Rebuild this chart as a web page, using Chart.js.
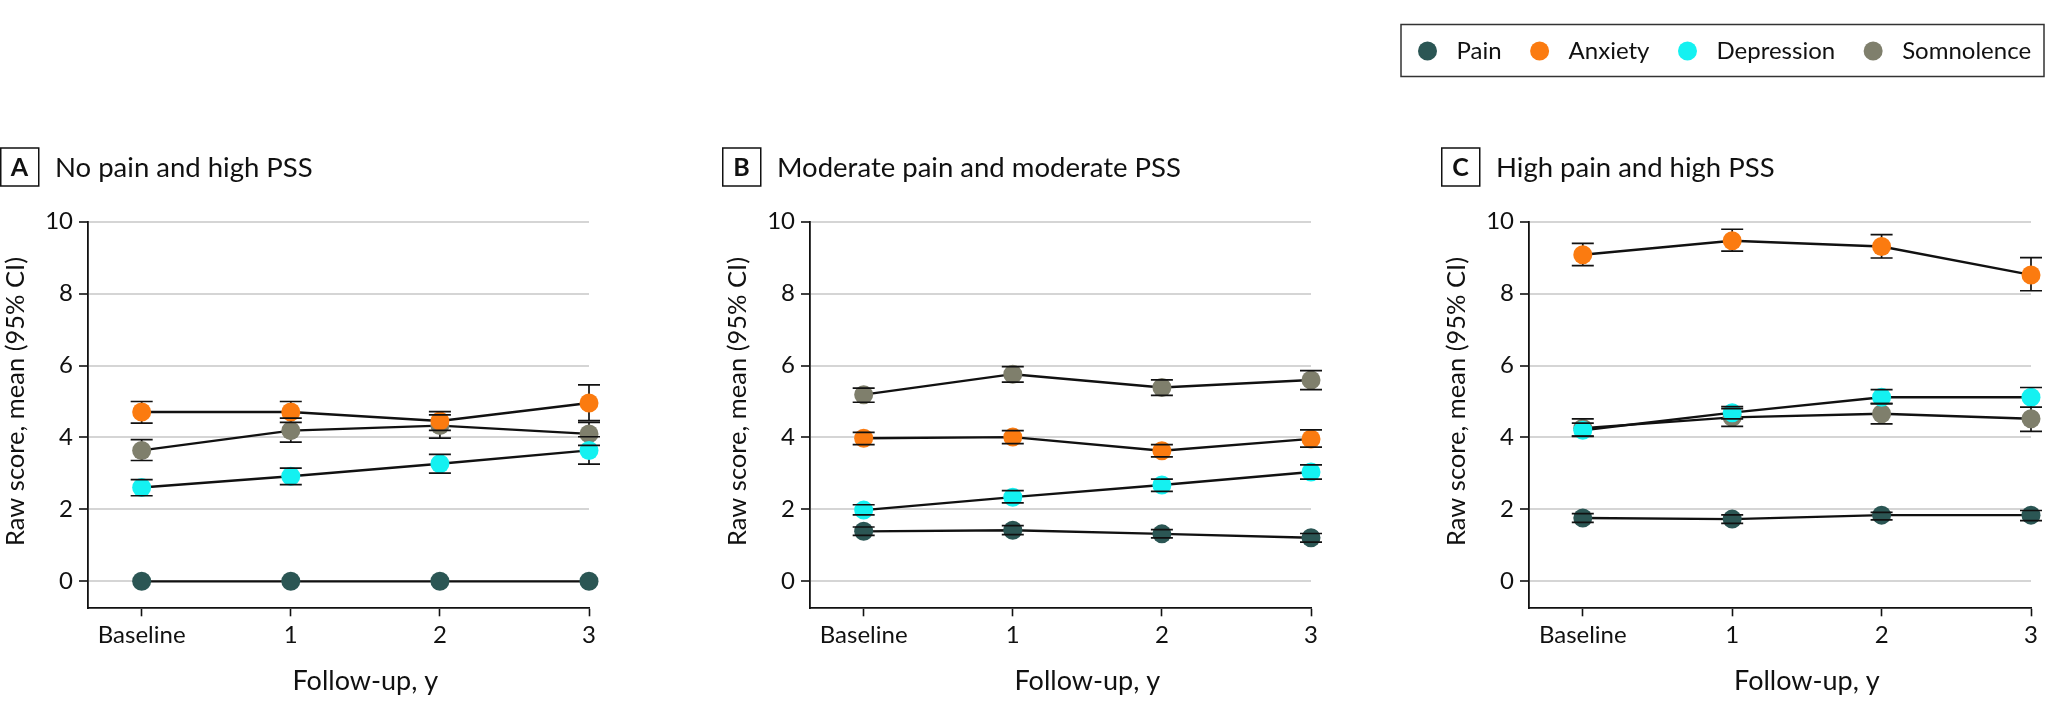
<!DOCTYPE html>
<html>
<head>
<meta charset="utf-8">
<script src="https://cdn.jsdelivr.net/npm/chart.js@4"></script>
<style>
  body { margin: 0; background: #fff; width: 2048px; height: 715px; overflow: hidden; position: relative; }
  canvas { position: absolute; top: 0; }
</style>
</head>
<body>
<canvas id="panelA" width="720" height="715" style="left:0px"></canvas>
<canvas id="panelB" width="720" height="715" style="left:722px"></canvas>
<canvas id="panelC" width="648" height="715" style="left:1400px"></canvas>
<script>
// follow-up visits
const followUpIndex = [0, 1, 2, 3];
const followUpLabels = ['Baseline', '1', '2', '3'];
const yTicks = [0, 2, 4, 6, 8, 10];

const seriesNames = ['Pain', 'Anxiety', 'Depression', 'Somnolence'];
const seriesColors = ['#2b5654', '#fb7b10', '#14f1f1', '#7f7f6c'];

// panel A: no pain and high PSS  (rows = Pain, Anxiety, Depression, Somnolence)
const meanA = [[0, 0, 0, 0], [4.71, 4.71, 4.46, 4.96], [2.61, 2.92, 3.27, 3.64], [3.64, 4.19, 4.33, 4.10]];
const lowA  = [[0, 0, 0, 0], [4.40, 4.42, 4.20, 4.47], [2.38, 2.69, 3.01, 3.26], [3.36, 3.87, 3.98, 3.78]];
const highA = [[0, 0, 0, 0], [5.00, 5.00, 4.72, 5.46], [2.83, 3.15, 3.53, 4.02], [3.94, 4.54, 4.63, 4.42]];

// panel B: moderate pain and moderate PSS
const meanB = [[1.39, 1.42, 1.32, 1.21], [3.98, 4.01, 3.63, 3.96], [1.98, 2.34, 2.68, 3.04], [5.19, 5.76, 5.39, 5.60]];
const lowB  = [[1.28, 1.30, 1.21, 1.09], [3.80, 3.83, 3.46, 3.73], [1.85, 2.18, 2.50, 2.84], [4.98, 5.54, 5.17, 5.33]];
const highB = [[1.51, 1.55, 1.44, 1.33], [4.14, 4.19, 3.80, 4.21], [2.13, 2.52, 2.84, 3.24], [5.37, 5.97, 5.60, 5.86]];

// panel C: high pain and high PSS
const meanC = [[1.76, 1.73, 1.84, 1.84], [9.08, 9.47, 9.31, 8.52], [4.20, 4.69, 5.12, 5.12], [4.26, 4.56, 4.66, 4.52]];
const lowC  = [[1.64, 1.61, 1.71, 1.69], [8.78, 9.18, 8.99, 8.08], [4.04, 4.52, 4.94, 4.84], [4.03, 4.31, 4.38, 4.17]];
const highC = [[1.88, 1.85, 1.92, 1.97], [9.40, 9.79, 9.64, 9.00], [4.40, 4.86, 5.33, 5.39], [4.52, 4.80, 4.94, 4.84]];

const xTitle = 'Follow-up, y';
const yTitle = 'Raw score, mean (95% CI)';

const FONT = "Lato, 'Liberation Sans', sans-serif";
const INK = '#111';
Chart.defaults.font.family = FONT;
Chart.defaults.color = INK;

// 95% CI bars: stems under the dots, caps on top
function drawBars(chart, part) {
    const ctx = chart.ctx, yScale = chart.scales.y;
    ctx.save();
    ctx.strokeStyle = INK;
    ctx.lineWidth = 1.7;
    chart.data.datasets.forEach((ds, i) => {
        chart.getDatasetMeta(i).data.forEach((pt, j) => {
            const lo = yScale.getPixelForValue(ds.ciLow[j]);
            const hi = yScale.getPixelForValue(ds.ciHigh[j]);
            if (Math.abs(lo - hi) < 1) return;
            ctx.beginPath();
            if (part == 'stem') {
                ctx.moveTo(pt.x, lo); ctx.lineTo(pt.x, hi);
            } else {
                ctx.moveTo(pt.x - 11, lo); ctx.lineTo(pt.x + 11, lo);
                ctx.moveTo(pt.x - 11, hi); ctx.lineTo(pt.x + 11, hi);
            }
            ctx.stroke();
        });
    });
    ctx.restore();
}

const errorBars = {
    id: 'errorBars',
    beforeDatasetsDraw(chart) { drawBars(chart, 'stem'); },
    afterDatasetsDraw(chart) { drawBars(chart, 'cap'); }
};

const panelDecor = {
    id: 'panelDecor',
    afterDraw(chart, args, opts) {
        const ctx = chart.ctx, xs = chart.scales.x, ys = chart.scales.y;
        ctx.save();
        // boxed letter + title
        ctx.strokeStyle = INK;
        ctx.lineWidth = 1.5;
        ctx.strokeRect(opts.boxX + 0.75, 148, 38, 38);
        ctx.fillStyle = INK;
        ctx.textBaseline = 'middle';
        ctx.textAlign = 'center';
        ctx.font = 'bold 25px ' + FONT;
        ctx.fillText(opts.letter, opts.boxX + 19.5, 168);
        ctx.textAlign = 'left';
        ctx.font = '27.5px ' + FONT;
        ctx.fillText(opts.title, opts.boxX + 55, 168);

        // axis titles, centred on the tick range
        ctx.textAlign = 'center';
        ctx.font = '27px ' + FONT;
        const xMid = (xs.getPixelForValue(followUpIndex[0]) + xs.getPixelForValue(followUpIndex[followUpIndex.length - 1])) / 2;
        ctx.fillText(xTitle, xMid, 681);
        const yMid = (ys.getPixelForValue(yTicks[0]) + ys.getPixelForValue(yTicks[yTicks.length - 1])) / 2;
        ctx.font = '25.5px ' + FONT;
        ctx.save();
        ctx.translate(opts.boxX + 16, yMid);
        ctx.rotate(-Math.PI / 2);
        ctx.fillText(yTitle, 0, 0);
        ctx.restore();

        if (opts.legend) {
            ctx.textAlign = 'left';
            ctx.font = '24px ' + FONT;
            let x = 27.5;
            const y = 51;
            let end = x;
            seriesNames.forEach((name, i) => {
                ctx.fillStyle = seriesColors[i];
                ctx.beginPath();
                ctx.arc(x, y, 9.5, 0, Math.PI * 2);
                ctx.fill();
                ctx.fillStyle = INK;
                ctx.fillText(name, x + 29, y);
                end = x + 29 + ctx.measureText(name).width;
                x = end + 38;
            });
            ctx.strokeStyle = '#333';
            ctx.lineWidth = 1.5;
            ctx.strokeRect(1, 24.5, Math.min(end + 17, 644) - 1, 52);
        }
        ctx.restore();
    }
};

function buildPanel(canvasId, mean, low, high, letter, title, shift, padRight, legend) {
    const datasets = seriesNames.map((name, i) => ({
        label: name,
        data: followUpIndex.map((x, j) => ({ x: x, y: mean[i][j] })),
        ciLow: low[i],
        ciHigh: high[i],
        borderColor: INK,
        borderWidth: 2.4,
        pointBackgroundColor: seriesColors[i],
        pointBorderWidth: 0,
        pointRadius: 9.5,
        pointHoverRadius: 9.5,
        tension: 0,
        clip: false
    }));

    return new Chart(document.getElementById(canvasId), {
        type: 'line',
        data: { datasets: datasets },
        options: {
            responsive: false,
            devicePixelRatio: 1,
            animation: false,
            layout: { padding: { top: 221.7, left: shift, right: padRight, bottom: 0 } },
            scales: {
                x: {
                    type: 'linear',
                    min: -0.36,
                    max: 3,
                    afterBuildTicks: s => { s.ticks = followUpIndex.map(v => ({ value: v })); },
                    afterFit: s => { s.height = 106.7; },
                    ticks: {
                        callback: (v, idx) => followUpLabels[idx],
                        font: { size: 24 },
                        color: INK,
                        padding: 5,
                        maxRotation: 0,
                        autoSkip: false
                    },
                    grid: { drawOnChartArea: false, tickLength: 8, tickColor: INK, tickWidth: 1.6 },
                    border: { color: INK, width: 1.8 },
                    title: { display: false }
                },
                y: {
                    min: -0.75,
                    max: 10,
                    afterBuildTicks: s => { s.ticks = yTicks.map(v => ({ value: v })); },
                    afterFit: s => { s.width = 88; },
                    ticks: { font: { size: 24 }, color: INK, padding: 6 },
                    grid: { color: '#d5d5d5', lineWidth: 2, tickLength: 9, tickColor: INK, tickWidth: 1.6 },
                    border: { color: INK, width: 1.8 },
                    title: { display: false }
                }
            },
            plugins: {
                legend: { display: false },
                tooltip: { enabled: false },
                panelDecor: { letter: letter, title: title, boxX: shift, legend: legend }
            }
        },
        plugins: [errorBars, panelDecor]
    });
}

buildPanel('panelA', meanA, lowA, highA, 'A', 'No pain and high PSS', 0, 131, false);
buildPanel('panelB', meanB, lowB, highB, 'B', 'Moderate pain and moderate PSS', 0, 131, false);
buildPanel('panelC', meanC, lowC, highC, 'C', 'High pain and high PSS', 41, 17, true);
</script>
</body>
</html>
